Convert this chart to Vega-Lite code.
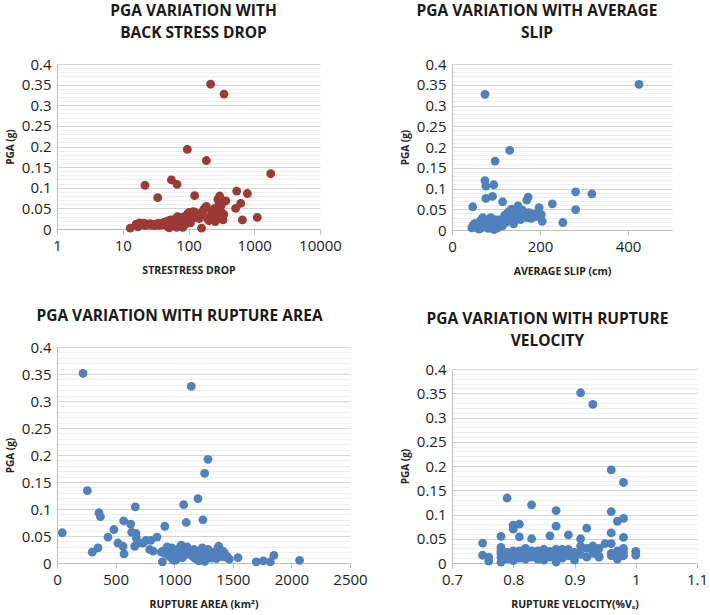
{
  "$schema": "https://vega.github.io/schema/vega-lite/v6.json",
  "background": "white",
  "padding": {"left": 5, "top": 3, "right": 0, "bottom": 0},
  "spacing": 31,
  "datasets": {
    "stress": [
      {"x": 217, "pga": 0.351}, {"x": 347, "pga": 0.327}, {"x": 96, "pga": 0.193}, {"x": 187, "pga": 0.166},
      {"x": 1780, "pga": 0.134}, {"x": 21.8, "pga": 0.106}, {"x": 55, "pga": 0.119}, {"x": 67, "pga": 0.108},
      {"x": 34, "pga": 0.076}, {"x": 124, "pga": 0.081}, {"x": 541, "pga": 0.092}, {"x": 785, "pga": 0.086},
      {"x": 298, "pga": 0.08}, {"x": 280, "pga": 0.072}, {"x": 370, "pga": 0.068}, {"x": 316, "pga": 0.058},
      {"x": 622, "pga": 0.062}, {"x": 521, "pga": 0.05}, {"x": 660, "pga": 0.022}, {"x": 1114, "pga": 0.028},
      {"x": 187, "pga": 0.055}, {"x": 158, "pga": 0.002}, {"x": 13, "pga": 0.002},
      {"x": 16, "pga": 0.012}, {"x": 17, "pga": 0.005}, {"x": 18, "pga": 0.015}, {"x": 19, "pga": 0.012},
      {"x": 20, "pga": 0.01}, {"x": 21, "pga": 0.014}, {"x": 22, "pga": 0.008}, {"x": 23, "pga": 0.012},
      {"x": 25, "pga": 0.01}, {"x": 26, "pga": 0.013}, {"x": 28, "pga": 0.009}, {"x": 29, "pga": 0.012},
      {"x": 31, "pga": 0.008}, {"x": 33, "pga": 0.011}, {"x": 35, "pga": 0.014}, {"x": 36, "pga": 0.009},
      {"x": 38, "pga": 0.013}, {"x": 40, "pga": 0.01}, {"x": 42, "pga": 0.016}, {"x": 44, "pga": 0.012},
      {"x": 46, "pga": 0.018}, {"x": 48, "pga": 0.006}, {"x": 50, "pga": 0.02}, {"x": 51, "pga": 0.003},
      {"x": 52, "pga": 0.013}, {"x": 54, "pga": 0.022}, {"x": 56, "pga": 0.015}, {"x": 58, "pga": 0.009},
      {"x": 60, "pga": 0.02}, {"x": 62, "pga": 0.012}, {"x": 64, "pga": 0.025}, {"x": 66, "pga": 0.004},
      {"x": 68, "pga": 0.03}, {"x": 70, "pga": 0.018}, {"x": 72, "pga": 0.024}, {"x": 74, "pga": 0.01},
      {"x": 76, "pga": 0.028}, {"x": 79, "pga": 0.015}, {"x": 82, "pga": 0.004}, {"x": 84, "pga": 0.022},
      {"x": 87, "pga": 0.03}, {"x": 90, "pga": 0.012}, {"x": 93, "pga": 0.026}, {"x": 96, "pga": 0.036},
      {"x": 98, "pga": 0.018}, {"x": 101, "pga": 0.04}, {"x": 104, "pga": 0.03}, {"x": 107, "pga": 0.015},
      {"x": 110, "pga": 0.022}, {"x": 114, "pga": 0.035}, {"x": 118, "pga": 0.042}, {"x": 122, "pga": 0.028},
      {"x": 128, "pga": 0.04}, {"x": 135, "pga": 0.032}, {"x": 145, "pga": 0.025}, {"x": 155, "pga": 0.035},
      {"x": 165, "pga": 0.042}, {"x": 172, "pga": 0.048}, {"x": 182, "pga": 0.052}, {"x": 195, "pga": 0.025},
      {"x": 205, "pga": 0.02}, {"x": 215, "pga": 0.032}, {"x": 230, "pga": 0.042}, {"x": 245, "pga": 0.03},
      {"x": 255, "pga": 0.018}, {"x": 265, "pga": 0.035}, {"x": 285, "pga": 0.026}, {"x": 300, "pga": 0.048},
      {"x": 320, "pga": 0.04}, {"x": 345, "pga": 0.035}, {"x": 335, "pga": 0.022}, {"x": 250, "pga": 0.05},
      {"x": 290, "pga": 0.06}
    ],
    "slip": [
      {"x": 425, "pga": 0.351}, {"x": 75, "pga": 0.327}, {"x": 131, "pga": 0.192}, {"x": 98, "pga": 0.166},
      {"x": 75, "pga": 0.119}, {"x": 77, "pga": 0.106}, {"x": 95, "pga": 0.109}, {"x": 92, "pga": 0.081},
      {"x": 77, "pga": 0.076}, {"x": 115, "pga": 0.068}, {"x": 47, "pga": 0.056}, {"x": 281, "pga": 0.092},
      {"x": 318, "pga": 0.087}, {"x": 228, "pga": 0.063}, {"x": 281, "pga": 0.049}, {"x": 252, "pga": 0.018},
      {"x": 173, "pga": 0.079}, {"x": 170, "pga": 0.072}, {"x": 198, "pga": 0.054}, {"x": 203, "pga": 0.037},
      {"x": 205, "pga": 0.021},
      {"x": 45, "pga": 0.005}, {"x": 48, "pga": 0.012}, {"x": 50, "pga": 0.008}, {"x": 52, "pga": 0.016},
      {"x": 55, "pga": 0.01}, {"x": 58, "pga": 0.004}, {"x": 60, "pga": 0.014}, {"x": 62, "pga": 0.002},
      {"x": 63, "pga": 0.02}, {"x": 65, "pga": 0.01}, {"x": 67, "pga": 0.025}, {"x": 68, "pga": 0.006},
      {"x": 70, "pga": 0.03}, {"x": 72, "pga": 0.015}, {"x": 74, "pga": 0.008}, {"x": 75, "pga": 0.022},
      {"x": 78, "pga": 0.012}, {"x": 80, "pga": 0.018}, {"x": 82, "pga": 0.004}, {"x": 84, "pga": 0.026},
      {"x": 86, "pga": 0.01}, {"x": 88, "pga": 0.03}, {"x": 90, "pga": 0.015}, {"x": 92, "pga": 0.006},
      {"x": 94, "pga": 0.02}, {"x": 95, "pga": 0.001}, {"x": 97, "pga": 0.025}, {"x": 100, "pga": 0.012},
      {"x": 102, "pga": 0.004}, {"x": 104, "pga": 0.018}, {"x": 106, "pga": 0.024}, {"x": 108, "pga": 0.008},
      {"x": 110, "pga": 0.014}, {"x": 112, "pga": 0.02}, {"x": 115, "pga": 0.01}, {"x": 117, "pga": 0.028},
      {"x": 120, "pga": 0.035}, {"x": 122, "pga": 0.018}, {"x": 125, "pga": 0.04}, {"x": 127, "pga": 0.025},
      {"x": 130, "pga": 0.045}, {"x": 132, "pga": 0.03}, {"x": 135, "pga": 0.05}, {"x": 138, "pga": 0.038},
      {"x": 140, "pga": 0.015}, {"x": 142, "pga": 0.045}, {"x": 145, "pga": 0.03}, {"x": 148, "pga": 0.052},
      {"x": 150, "pga": 0.058}, {"x": 153, "pga": 0.04}, {"x": 156, "pga": 0.025}, {"x": 160, "pga": 0.048},
      {"x": 165, "pga": 0.035}, {"x": 170, "pga": 0.03}, {"x": 175, "pga": 0.042}, {"x": 180, "pga": 0.028},
      {"x": 185, "pga": 0.038}, {"x": 190, "pga": 0.032}, {"x": 195, "pga": 0.042}
    ],
    "area": [
      {"x": 222, "pga": 0.351}, {"x": 1146, "pga": 0.327}, {"x": 1288, "pga": 0.192}, {"x": 1260, "pga": 0.166},
      {"x": 259, "pga": 0.134}, {"x": 1203, "pga": 0.119}, {"x": 1081, "pga": 0.108}, {"x": 668, "pga": 0.104},
      {"x": 1103, "pga": 0.075}, {"x": 1245, "pga": 0.08}, {"x": 358, "pga": 0.093}, {"x": 370, "pga": 0.086},
      {"x": 45, "pga": 0.056}, {"x": 569, "pga": 0.078}, {"x": 629, "pga": 0.072}, {"x": 920, "pga": 0.068},
      {"x": 486, "pga": 0.062}, {"x": 637, "pga": 0.057}, {"x": 673, "pga": 0.055}, {"x": 435, "pga": 0.048},
      {"x": 853, "pga": 0.048}, {"x": 301, "pga": 0.02}, {"x": 350, "pga": 0.028}, {"x": 572, "pga": 0.017},
      {"x": 760, "pga": 0.042}, {"x": 800, "pga": 0.042}, {"x": 890, "pga": 0.02}, {"x": 899, "pga": 0.002},
      {"x": 1544, "pga": 0.01}, {"x": 1700, "pga": 0.002}, {"x": 1760, "pga": 0.004}, {"x": 1820, "pga": 0.002},
      {"x": 1851, "pga": 0.014}, {"x": 2070, "pga": 0.005}, {"x": 1373, "pga": 0.028},
      {"x": 520, "pga": 0.037}, {"x": 563, "pga": 0.031}, {"x": 677, "pga": 0.046}, {"x": 691, "pga": 0.037},
      {"x": 663, "pga": 0.031}, {"x": 734, "pga": 0.037}, {"x": 791, "pga": 0.025}, {"x": 820, "pga": 0.022},
      {"x": 904, "pga": 0.022}, {"x": 962, "pga": 0.025}, {"x": 990, "pga": 0.006}, {"x": 1018, "pga": 0.022},
      {"x": 1047, "pga": 0.028}, {"x": 1075, "pga": 0.012}, {"x": 1103, "pga": 0.019}, {"x": 1146, "pga": 0.022},
      {"x": 1160, "pga": 0.012}, {"x": 1188, "pga": 0.019}, {"x": 1230, "pga": 0.022}, {"x": 1260, "pga": 0.012},
      {"x": 1288, "pga": 0.019}, {"x": 1316, "pga": 0.009}, {"x": 1380, "pga": 0.031}, {"x": 1416, "pga": 0.022},
      {"x": 1453, "pga": 0.012}, {"x": 1470, "pga": 0.007}, {"x": 1260, "pga": 0.003},
      {"x": 1200, "pga": 0.022}, {"x": 1220, "pga": 0.012}, {"x": 1240, "pga": 0.028}, {"x": 1255, "pga": 0.005},
      {"x": 1270, "pga": 0.018}, {"x": 1290, "pga": 0.025}, {"x": 1300, "pga": 0.01}, {"x": 1320, "pga": 0.02},
      {"x": 1340, "pga": 0.015}, {"x": 1360, "pga": 0.008}, {"x": 1395, "pga": 0.02}, {"x": 1410, "pga": 0.012},
      {"x": 1430, "pga": 0.018}, {"x": 1450, "pga": 0.01}, {"x": 1110, "pga": 0.03}, {"x": 1130, "pga": 0.016},
      {"x": 1170, "pga": 0.025}, {"x": 1180, "pga": 0.008}, {"x": 1060, "pga": 0.033}, {"x": 1040, "pga": 0.018},
      {"x": 1000, "pga": 0.022}, {"x": 980, "pga": 0.028}, {"x": 960, "pga": 0.012}, {"x": 940, "pga": 0.03},
      {"x": 920, "pga": 0.018}, {"x": 1070, "pga": 0.01}, {"x": 1025, "pga": 0.008}, {"x": 1005, "pga": 0.005},
      {"x": 1150, "pga": 0.02}, {"x": 1195, "pga": 0.014}, {"x": 1210, "pga": 0.004}
    ],
    "vel": [
      {"x": 0.91, "pga": 0.351}, {"x": 0.93, "pga": 0.327}, {"x": 0.96, "pga": 0.192}, {"x": 0.98, "pga": 0.166},
      {"x": 0.79, "pga": 0.134}, {"x": 0.83, "pga": 0.12}, {"x": 0.87, "pga": 0.108}, {"x": 0.96, "pga": 0.106},
      {"x": 0.97, "pga": 0.086}, {"x": 0.98, "pga": 0.092}, {"x": 0.8, "pga": 0.078}, {"x": 0.8, "pga": 0.07},
      {"x": 0.81, "pga": 0.08}, {"x": 0.87, "pga": 0.076}, {"x": 0.92, "pga": 0.072}, {"x": 0.96, "pga": 0.062},
      {"x": 0.75, "pga": 0.041}, {"x": 0.78, "pga": 0.055}, {"x": 0.81, "pga": 0.054}, {"x": 0.83, "pga": 0.05},
      {"x": 0.86, "pga": 0.056}, {"x": 0.89, "pga": 0.058}, {"x": 0.91, "pga": 0.05}, {"x": 0.91, "pga": 0.035},
      {"x": 0.93, "pga": 0.035}, {"x": 0.95, "pga": 0.04}, {"x": 0.96, "pga": 0.04}, {"x": 0.98, "pga": 0.053},
      {"x": 0.98, "pga": 0.03}, {"x": 0.98, "pga": 0.022}, {"x": 1.0, "pga": 0.024}, {"x": 1.0, "pga": 0.016},
      {"x": 0.75, "pga": 0.016}, {"x": 0.76, "pga": 0.012}, {"x": 0.76, "pga": 0.004}, {"x": 0.78, "pga": 0.032},
      {"x": 0.78, "pga": 0.002}, {"x": 0.87, "pga": 0.002}, {"x": 0.97, "pga": 0.008}, {"x": 0.94, "pga": 0.012},
      {"x": 0.78, "pga": 0.02}, {"x": 0.78, "pga": 0.012}, {"x": 0.78, "pga": 0.025}, {"x": 0.79, "pga": 0.015},
      {"x": 0.79, "pga": 0.022}, {"x": 0.79, "pga": 0.008}, {"x": 0.8, "pga": 0.025}, {"x": 0.8, "pga": 0.012},
      {"x": 0.8, "pga": 0.018}, {"x": 0.81, "pga": 0.02}, {"x": 0.81, "pga": 0.01}, {"x": 0.81, "pga": 0.025},
      {"x": 0.82, "pga": 0.015}, {"x": 0.82, "pga": 0.022}, {"x": 0.82, "pga": 0.008}, {"x": 0.83, "pga": 0.025},
      {"x": 0.83, "pga": 0.012}, {"x": 0.83, "pga": 0.018}, {"x": 0.84, "pga": 0.008}, {"x": 0.84, "pga": 0.02},
      {"x": 0.84, "pga": 0.014}, {"x": 0.85, "pga": 0.012}, {"x": 0.85, "pga": 0.02}, {"x": 0.85, "pga": 0.006},
      {"x": 0.86, "pga": 0.018}, {"x": 0.86, "pga": 0.012}, {"x": 0.86, "pga": 0.024}, {"x": 0.87, "pga": 0.028},
      {"x": 0.87, "pga": 0.015}, {"x": 0.87, "pga": 0.02}, {"x": 0.88, "pga": 0.022}, {"x": 0.88, "pga": 0.01},
      {"x": 0.88, "pga": 0.028}, {"x": 0.89, "pga": 0.02}, {"x": 0.89, "pga": 0.015}, {"x": 0.9, "pga": 0.012},
      {"x": 0.9, "pga": 0.006}, {"x": 0.89, "pga": 0.028}, {"x": 0.92, "pga": 0.012}, {"x": 0.93, "pga": 0.02},
      {"x": 0.94, "pga": 0.014}, {"x": 0.96, "pga": 0.02}, {"x": 0.96, "pga": 0.015}, {"x": 0.97, "pga": 0.018},
      {"x": 0.97, "pga": 0.025}, {"x": 0.98, "pga": 0.015}, {"x": 0.92, "pga": 0.03}, {"x": 0.94, "pga": 0.03},
      {"x": 0.9, "pga": 0.022}, {"x": 0.91, "pga": 0.018}, {"x": 0.84, "pga": 0.025}, {"x": 0.8, "pga": 0.005},
      {"x": 0.82, "pga": 0.03}, {"x": 0.85, "pga": 0.028}, {"x": 0.93, "pga": 0.03}
    ]
  },
  "vconcat": [
    {
      "spacing": 58,
      "hconcat": [
        {
          "width": 263, "height": 165,
          "title": {"text": ["PGA VARIATION WITH", "BACK STRESS DROP"], "dx": 5},
          "data": {"name": "stress"},
          "mark": {"type": "circle", "size": 78, "opacity": 1, "color": "#9C3A35"},
          "encoding": {
            "x": {"field": "x", "type": "quantitative", "scale": {"type": "log", "domain": [1, 10000]},
                  "axis": {"values": [1, 10, 100, 1000, 10000], "format": "d", "title": "STRESTRESS DROP"}},
            "y": {"field": "pga", "type": "quantitative", "scale": {"domain": [0, 0.4], "nice": false},
                  "axis": {"title": "PGA (g)",
                    "values": [0,0.01,0.02,0.03,0.04,0.05,0.06,0.07,0.08,0.09,0.1,0.11,0.12,0.13,0.14,0.15,0.16,0.17,0.18,0.19,0.2,0.21,0.22,0.23,0.24,0.25,0.26,0.27,0.28,0.29,0.3,0.31,0.32,0.33,0.34,0.35,0.36,0.37,0.38,0.39,0.4],
                    "labelExpr": "round(datum.value*100) % 5 === 0 ? format(datum.value, '~g') : ''",
                    "gridColor": {"condition": {"test": "round(datum.value*100) % 5 === 0", "value": "#d4d4d4"}, "value": "#eeeeee"}}}
          }
        },
        {
          "width": 220, "height": 166,
          "title": {"text": ["PGA VARIATION WITH AVERAGE", "SLIP"], "dx": -25},
          "data": {"name": "slip"},
          "mark": {"type": "circle", "size": 78, "opacity": 1, "color": "#4F81BD"},
          "encoding": {
            "x": {"field": "x", "type": "quantitative", "scale": {"domain": [0, 500], "nice": false},
                  "axis": {"values": [0, 200, 400], "format": "d", "title": "AVERAGE SLIP (cm)"}},
            "y": {"field": "pga", "type": "quantitative", "scale": {"domain": [0, 0.4], "nice": false},
                  "axis": {"title": "PGA (g)",
                    "values": [0,0.01,0.02,0.03,0.04,0.05,0.06,0.07,0.08,0.09,0.1,0.11,0.12,0.13,0.14,0.15,0.16,0.17,0.18,0.19,0.2,0.21,0.22,0.23,0.24,0.25,0.26,0.27,0.28,0.29,0.3,0.31,0.32,0.33,0.34,0.35,0.36,0.37,0.38,0.39,0.4],
                    "labelExpr": "round(datum.value*100) % 5 === 0 ? format(datum.value, '~g') : ''",
                    "gridColor": {"condition": {"test": "round(datum.value*100) % 5 === 0", "value": "#d4d4d4"}, "value": "#eeeeee"}}}
          }
        }
      ]
    },
    {
      "spacing": 32,
      "hconcat": [
        {
          "width": 293, "height": 216,
          "title": {"text": "PGA VARIATION WITH RUPTURE AREA", "dx": -24, "offset": 16},
          "data": {"name": "area"},
          "mark": {"type": "circle", "size": 78, "opacity": 1, "color": "#4F81BD"},
          "encoding": {
            "x": {"field": "x", "type": "quantitative", "scale": {"domain": [0, 2500], "nice": false},
                  "axis": {"values": [0, 500, 1000, 1500, 2000, 2500], "format": "d", "title": "RUPTURE AREA (km²)"}},
            "y": {"field": "pga", "type": "quantitative", "scale": {"domain": [0, 0.4], "nice": false},
                  "axis": {"title": "PGA (g)",
                    "values": [0,0.01,0.02,0.03,0.04,0.05,0.06,0.07,0.08,0.09,0.1,0.11,0.12,0.13,0.14,0.15,0.16,0.17,0.18,0.19,0.2,0.21,0.22,0.23,0.24,0.25,0.26,0.27,0.28,0.29,0.3,0.31,0.32,0.33,0.34,0.35,0.36,0.37,0.38,0.39,0.4],
                    "labelExpr": "round(datum.value*100) % 5 === 0 ? format(datum.value, '~g') : ''",
                    "gridColor": {"condition": {"test": "round(datum.value*100) % 5 === 0", "value": "#d4d4d4"}, "value": "#eeeeee"}}}
          }
        },
        {
          "spacing": 0,
          "bounds": "flush",
          "vconcat": [
            {
              "width": 245, "height": 22,
              "title": {"text": ["PGA VARIATION WITH RUPTURE", "VELOCITY"], "dx": -27, "offset": -2},
              "data": {"values": []},
              "mark": {"type": "point"}
            },
            {
              "width": 245, "height": 194,
              "data": {"name": "vel"},
              "mark": {"type": "circle", "size": 78, "opacity": 1, "color": "#4F81BD"},
              "encoding": {
                "x": {"field": "x", "type": "quantitative", "scale": {"domain": [0.7, 1.1], "nice": false, "zero": false},
                      "axis": {"values": [0.7, 0.8, 0.9, 1, 1.1], "format": "~g", "title": "RUPTURE VELOCITY(%Vₛ)"}},
                "y": {"field": "pga", "type": "quantitative", "scale": {"domain": [0, 0.4], "nice": false},
                      "axis": {"title": "PGA (g)",
                        "values": [0,0.01,0.02,0.03,0.04,0.05,0.06,0.07,0.08,0.09,0.1,0.11,0.12,0.13,0.14,0.15,0.16,0.17,0.18,0.19,0.2,0.21,0.22,0.23,0.24,0.25,0.26,0.27,0.28,0.29,0.3,0.31,0.32,0.33,0.34,0.35,0.36,0.37,0.38,0.39,0.4],
                        "labelExpr": "round(datum.value*100) % 5 === 0 ? format(datum.value, '~g') : ''",
                        "gridColor": {"condition": {"test": "round(datum.value*100) % 5 === 0", "value": "#d4d4d4"}, "value": "#eeeeee"}}}
              }
            }
          ]
        }
      ]
    }
  ],
  "config": {
    "view": {"stroke": null},
    "title": {"font": "Open Sans", "fontSize": 15.5, "fontWeight": "bold", "color": "#1a1a1a", "lineHeight": 22, "offset": 16, "frame": "group", "anchor": "middle"},
    "axis": {"labelFont": "Open Sans", "labelFontSize": 15, "labelColor": "#222222", "titleFont": "Open Sans", "titleFontSize": 10.5, "titleFontWeight": "bold", "titleColor": "#222222", "domainColor": "#bfbfbf", "tickColor": "#bfbfbf", "labelOverlap": false, "labelFlush": false, "labelBound": false},
    "axisX": {"grid": false, "tickSize": 5, "labelPadding": 4, "titlePadding": 12},
    "axisY": {"ticks": false, "labelPadding": 6, "titlePadding": 6, "titleFontSize": 10}
  }
}
